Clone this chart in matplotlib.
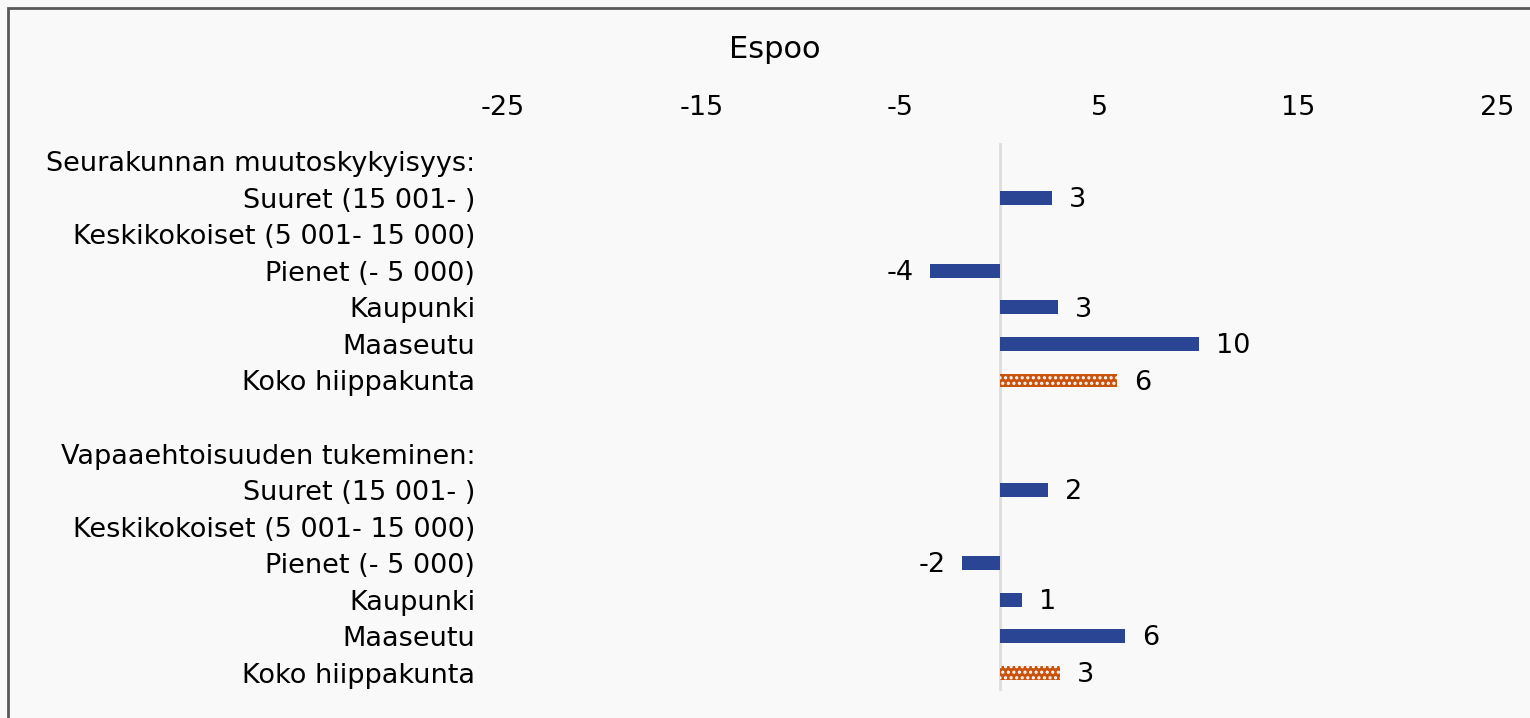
import numpy as np
import matplotlib.pyplot as plt
from matplotlib.patches import Rectangle

# Rivit ylhäältä alas
categories = [
    "Seurakunnan muutoskykyisyys:",
    "Suuret (15 001- )",
    "Keskikokoiset (5 001- 15 000)",
    "Pienet (- 5 000)",
    "Kaupunki",
    "Maaseutu",
    "Koko hiippakunta",
    "",
    "Vapaaehtoisuuden tukeminen:",
    "Suuret (15 001- )",
    "Keskikokoiset (5 001- 15 000)",
    "Pienet (- 5 000)",
    "Kaupunki",
    "Maaseutu",
    "Koko hiippakunta",
]
values = [np.nan, 2.6, np.nan, -3.5, 2.9, 10.0, 5.9,
          np.nan, np.nan, 2.4, np.nan, -1.9, 1.1, 6.3, 3.0]
total_rows = [6, 14]  # koko hiippakunta -rivit
xticks = [-25, -15, -5, 5, 15, 25]

blue = "#2B4595"
orange = "#C9520D"
bg = "#F9F9F9"
fs = 19.5

plt.rcParams["font.family"] = "DejaVu Sans"
plt.rcParams["hatch.linewidth"] = 1.5
fig = plt.figure(figsize=(15.3, 7.18), dpi=100, facecolor=bg)
ax = fig.add_axes([503 / 1530, 1 - 691 / 718, 994 / 1530, 548 / 718])
ax.set_facecolor(bg)

# kehys vasemmalla ja ylhäällä
fig.patches.append(Rectangle((8 / 1530, -0.1), 1.2, (718 - 8) / 718 + 0.1,
                             transform=fig.transFigure, fill=False,
                             edgecolor="#595959", linewidth=2))

y = np.arange(len(categories))
vals = np.array(values, dtype=float)
plot_vals = np.nan_to_num(vals)
colors = [orange if i in total_rows else blue for i in y]
bars = ax.barh(y, plot_vals, height=0.38, color=colors, linewidth=0, zorder=2)
for i in total_rows:
    bars[i].set_hatch("...")
    bars[i].set_edgecolor("white")

for i, v in enumerate(vals):
    if np.isnan(v):
        continue
    if v >= 0:
        ax.text(v + 0.85, i + 0.06, f"{v:.0f}", ha="left", va="center", fontsize=fs)
    else:
        ax.text(v - 0.85, i + 0.06, f"{v:.0f}", ha="right", va="center", fontsize=fs)

ax.axvline(0, color="#DDDDDD", linewidth=2, zorder=1)

ax.set_xlim(-25, 25)
ax.set_ylim(len(categories) - 0.5, -0.5)
ax.set_xticks(xticks)
ax.set_xticklabels([str(t) for t in xticks])
ax.xaxis.tick_top()
ax.tick_params(axis="x", length=0, labelsize=fs, pad=16)
ax.set_yticks(y)
ax.set_yticklabels(categories)
ax.tick_params(axis="y", length=0, labelsize=fs, pad=20)
for s in ax.spines.values():
    s.set_visible(False)

fig.text(775 / 1530, 1 - 50 / 718, "Espoo", ha="center", va="center", fontsize=22)

fig.savefig("out.png", dpi=100, facecolor=bg)
